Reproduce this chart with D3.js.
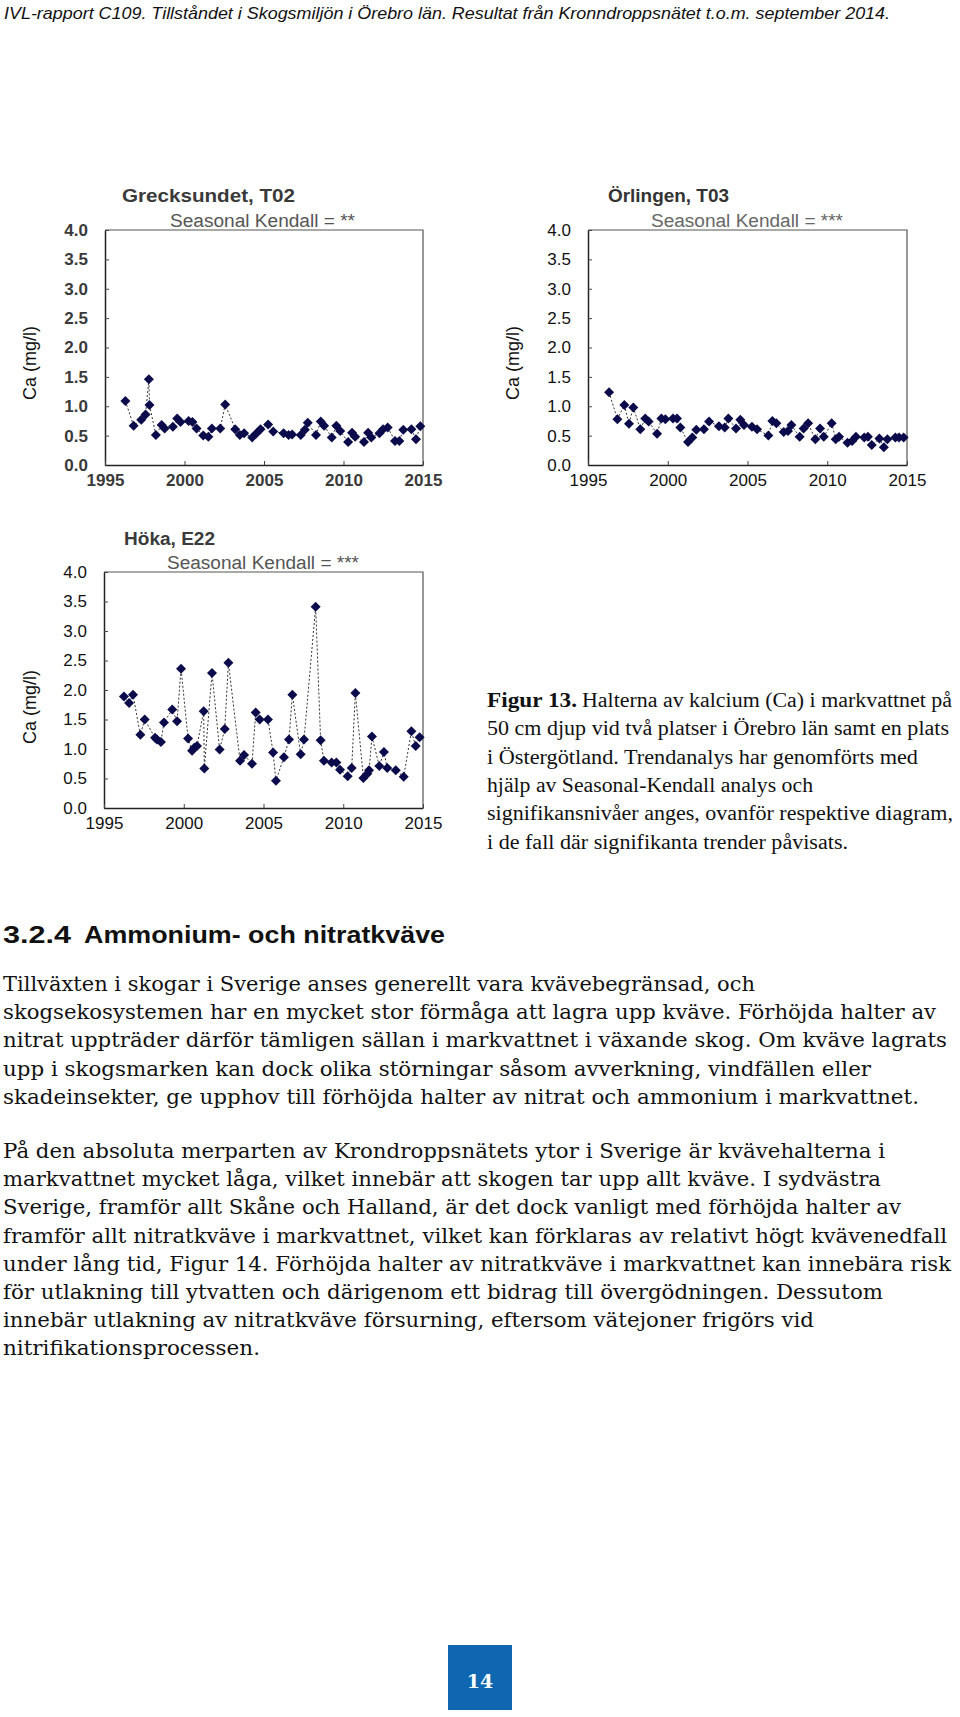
<!DOCTYPE html>
<html><head><meta charset="utf-8">
<script src="https://cdn.jsdelivr.net/npm/d3@7"></script>
<style>body{margin:0;background:#fff}svg{display:block}</style>
</head><body><svg id="page" width="960" height="1717"></svg>
<script>
// ---------- data ----------
const xTickYears = [1995, 2000, 2005, 2010, 2015];
const yTickValues = [0, 0.5, 1, 1.5, 2, 2.5, 3, 3.5, 4];

const dates_T02 = [1996.28,1996.8,1997.28,1997.55,1997.76,1997.8,1998.2,1998.56,1998.75,1999.27,1999.54,1999.75,2000.26,2000.5,2000.76,2001.18,2001.5,2001.72,2002.25,2002.56,2003.19,2003.48,2003.75,2004.26,2004.53,2004.78,2005.26,2005.58,2006.23,2006.55,2006.77,2007.31,2007.57,2007.75,2008.27,2008.57,2008.78,2009.26,2009.55,2009.79,2010.29,2010.54,2010.73,2011.29,2011.55,2011.75,2012.26,2012.49,2012.78,2013.24,2013.51,2013.76,2014.27,2014.56,2014.83];
const ca_T02 = [1.09,0.67,0.77,0.86,1.46,1.02,0.51,0.68,0.62,0.65,0.79,0.73,0.75,0.73,0.62,0.50,0.48,0.62,0.62,1.03,0.61,0.51,0.54,0.47,0.54,0.61,0.69,0.57,0.54,0.51,0.52,0.51,0.60,0.72,0.51,0.74,0.67,0.47,0.67,0.58,0.39,0.55,0.48,0.39,0.55,0.47,0.54,0.61,0.64,0.41,0.41,0.60,0.61,0.44,0.66];

const dates_T03 = [1996.32,1996.84,1997.28,1997.57,1997.84,1998.28,1998.59,1998.8,1999.33,1999.6,1999.85,2000.33,2000.58,2000.79,2001.27,2001.54,2001.79,2002.27,2002.59,2003.21,2003.57,2003.8,2004.28,2004.55,2004.78,2005.28,2005.6,2006.31,2006.56,2006.81,2007.27,2007.54,2007.75,2008.27,2008.52,2008.8,2009.25,2009.55,2009.78,2010.28,2010.53,2010.74,2011.27,2011.56,2011.8,2012.32,2012.55,2012.79,2013.27,2013.55,2013.77,2014.27,2014.5,2014.79];
const ca_T03 = [1.24,0.78,1.02,0.70,0.98,0.61,0.79,0.74,0.53,0.79,0.78,0.79,0.79,0.64,0.39,0.47,0.60,0.61,0.74,0.66,0.64,0.79,0.62,0.77,0.68,0.65,0.61,0.50,0.75,0.71,0.56,0.58,0.68,0.48,0.62,0.71,0.44,0.62,0.48,0.71,0.44,0.48,0.38,0.41,0.48,0.47,0.48,0.34,0.45,0.30,0.44,0.47,0.47,0.47];

const dates_E22 = [1996.25,1996.57,1996.82,1997.28,1997.55,1998.2,1998.32,1998.57,1998.76,1999.28,1999.58,1999.83,2000.27,2000.52,2000.66,2000.83,2001.25,2001.29,2001.77,2002.25,2002.57,2002.8,2003.53,2003.78,2004.28,2004.51,2004.76,2005.28,2005.6,2005.78,2006.28,2006.6,2006.81,2007.33,2007.54,2008.27,2008.58,2008.79,2009.27,2009.57,2009.8,2010.28,2010.53,2010.76,2011.26,2011.51,2011.62,2011.8,2012.26,2012.55,2012.76,2013.29,2013.79,2014.27,2014.54,2014.79];
const ca_E22 = [1.89,1.78,1.92,1.24,1.50,1.19,1.16,1.12,1.45,1.67,1.47,2.36,1.18,0.97,1.02,1.05,1.64,0.67,2.29,0.99,1.34,2.46,0.80,0.90,0.75,1.62,1.50,1.50,0.94,0.46,0.86,1.16,1.92,0.91,1.16,3.41,1.15,0.80,0.77,0.77,0.65,0.54,0.68,1.95,0.51,0.58,0.64,1.21,0.71,0.95,0.68,0.64,0.53,1.30,1.05,1.20];

const stationTitles = ["Grecksundet, T02", "Örlingen, T03", "Höka, E22"];
const kendallLabels = ["Seasonal Kendall = **", "Seasonal Kendall = ***", "Seasonal Kendall = ***"];
const yAxisLabel = "Ca (mg/l)";

const headerText = "IVL-rapport C109. Tillståndet i Skogsmiljön i Örebro län. Resultat från Kronndroppsnätet t.o.m. september 2014.";
const captionBold = "Figur 13.";
const captionLines = [
  "Halterna av kalcium (Ca) i markvattnet på",
  "50 cm djup vid två platser i Örebro län samt en plats",
  "i Östergötland. Trendanalys har genomförts med",
  "hjälp av Seasonal-Kendall analys och",
  "signifikansnivåer anges, ovanför respektive diagram,",
  "i de fall där signifikanta trender påvisats."
];
const headingNumber = "3.2.4";
const headingText = "Ammonium- och nitratkväve";
const para1 = [
  "Tillväxten i skogar i Sverige anses generellt vara kvävebegränsad, och",
  "skogsekosystemen har en mycket stor förmåga att lagra upp kväve. Förhöjda halter av",
  "nitrat uppträder därför tämligen sällan i markvattnet i växande skog. Om kväve lagrats",
  "upp i skogsmarken kan dock olika störningar såsom avverkning, vindfällen eller",
  "skadeinsekter, ge upphov till förhöjda halter av nitrat och ammonium i markvattnet."
];
const para2 = [
  "På den absoluta merparten av Krondroppsnätets ytor i Sverige är kvävehalterna i",
  "markvattnet mycket låga, vilket innebär att skogen tar upp allt kväve. I sydvästra",
  "Sverige, framför allt Skåne och Halland, är det dock vanligt med förhöjda halter av",
  "framför allt nitratkväve i markvattnet, vilket kan förklaras av relativt högt kvävenedfall",
  "under lång tid, Figur 14. Förhöjda halter av nitratkväve i markvattnet kan innebära risk",
  "för utlakning till ytvatten och därigenom ett bidrag till övergödningen. Dessutom",
  "innebär utlakning av nitratkväve försurning, eftersom vätejoner frigörs vid",
  "nitrifikationsprocessen."
];
const pageNumber = "14";

// ---------- layout ----------
const svg = d3.select("#page");
const SANS = "'Liberation Sans', Arial, sans-serif";
const SERIF = "'DejaVu Serif', Georgia, serif";
const CAPSERIF = "'Liberation Serif', 'Times New Roman', serif";

svg.append("text").attr("x", 4).attr("y", 19)
  .attr("font-family", "'Liberation Sans Narrow', 'Liberation Sans', Arial, sans-serif")
  .attr("font-style", "italic").attr("font-size", 17).attr("fill", "#111")
  .attr("textLength", 886).attr("lengthAdjust", "spacingAndGlyphs")
  .text(headerText);

const charts = [
  {dates: dates_T02, vals: ca_T02, left:105, right:423, top:230, bottom:465,
   title:{x:122,y:202,len:173}, sk:{x:170,y:227,len:185}, yl:{x:30,y:363},
   tickFill:"#3a3a3a", tickWeight:"bold", titleFill:"#3a3a3a", skFill:"#555"},
  {dates: dates_T03, vals: ca_T03, left:588, right:907, top:230, bottom:465,
   title:{x:608,y:202,len:121}, sk:{x:651,y:227,len:192}, yl:{x:513,y:363},
   tickFill:"#111", tickWeight:"normal", titleFill:"#333", skFill:"#666"},
  {dates: dates_E22, vals: ca_E22, left:104, right:423, top:572, bottom:808,
   title:{x:124,y:545,len:91}, sk:{x:167,y:569,len:192}, yl:{x:30,y:707},
   tickFill:"#111", tickWeight:"normal", titleFill:"#3a3a3a", skFill:"#555"}
];

charts.forEach((c, i) => {
  const g = svg.append("g");
  const x = d3.scaleLinear().domain([1995, 2015]).range([c.left, c.right]);
  const y = d3.scaleLinear().domain([0, 4]).range([c.bottom, c.top]);

  g.append("path")
    .attr("d", `M${c.left},${c.top}H${c.right}V${c.bottom}`)
    .attr("fill", "none").attr("stroke", "#555").attr("stroke-width", 1.2);

  const ya = g.append("g").attr("transform", `translate(${c.left},0)`)
    .call(d3.axisLeft(y).tickValues(yTickValues).tickFormat(d3.format(".1f"))
      .tickSizeInner(-4).tickSizeOuter(0).tickPadding(17));
  const xa = g.append("g").attr("transform", `translate(0,${c.bottom})`)
    .call(d3.axisBottom(x).tickValues(xTickYears).tickFormat(d3.format("d"))
      .tickSizeInner(-4).tickSizeOuter(0).tickPadding(9));
  [ya, xa].forEach(a => {
    a.select(".domain").attr("stroke", "#222").attr("stroke-width", 1.5);
    a.selectAll(".tick line").attr("stroke", "#444");
    a.selectAll("text").attr("font-family", SANS).attr("font-size", 17)
      .attr("fill", c.tickFill).attr("font-weight", c.tickWeight);
  });

  g.append("text")
    .attr("transform", `translate(${c.yl.x + 6},${c.yl.y}) rotate(-90)`)
    .attr("text-anchor", "middle").attr("font-family", SANS).attr("font-size", 18)
    .attr("fill", "#111").text(yAxisLabel);

  g.append("text").attr("x", c.title.x).attr("y", c.title.y)
    .attr("font-family", SANS).attr("font-weight", "bold").attr("font-size", 18)
    .attr("fill", c.titleFill).attr("textLength", c.title.len).attr("lengthAdjust", "spacingAndGlyphs")
    .text(stationTitles[i]);
  g.append("text").attr("x", c.sk.x).attr("y", c.sk.y)
    .attr("font-family", SANS).attr("font-size", 18)
    .attr("fill", c.skFill).attr("textLength", c.sk.len).attr("lengthAdjust", "spacingAndGlyphs")
    .text(kendallLabels[i]);

  const pts = d3.zip(c.dates, c.vals);
  g.append("path").datum(pts)
    .attr("d", d3.line().x(d => x(d[0])).y(d => y(d[1])))
    .attr("fill", "none").attr("stroke", "#333").attr("stroke-width", 1)
    .attr("stroke-dasharray", "2,2");
  g.selectAll(".pt").data(pts).join("path").attr("class", "pt")
    .attr("d", d3.symbol(d3.symbolSquare, 50)())
    .attr("transform", d => `translate(${x(d[0])},${y(d[1])}) rotate(45)`)
    .attr("fill", "#0b0b4b");
});

// caption
svg.append("text").attr("x", 487).attr("y", 707)
  .attr("font-family", CAPSERIF).attr("font-weight", "bold").attr("font-size", 20).attr("fill", "#111")
  .attr("textLength", 90).attr("lengthAdjust", "spacingAndGlyphs").text(captionBold);
const capEnds = [952, 949, 918, 813, 953, 848];
captionLines.forEach((t, k) => {
  const x0 = k === 0 ? 582 : 487;
  svg.append("text").attr("x", x0).attr("y", 707 + k * 28.3)
    .attr("font-family", CAPSERIF).attr("font-size", 20).attr("fill", "#111")
    .attr("textLength", capEnds[k] - x0).attr("lengthAdjust", "spacingAndGlyphs").text(t);
});

// heading
svg.append("text").attr("x", 3).attr("y", 943)
  .attr("font-family", SANS).attr("font-weight", "bold").attr("font-size", 24).attr("fill", "#111")
  .attr("textLength", 68).attr("lengthAdjust", "spacingAndGlyphs").text(headingNumber);
svg.append("text").attr("x", 84).attr("y", 943)
  .attr("font-family", SANS).attr("font-weight", "bold").attr("font-size", 24).attr("fill", "#111")
  .attr("textLength", 361).attr("lengthAdjust", "spacingAndGlyphs").text(headingText);

// body
const p1Ends = [755, 936, 947, 871, 919];
para1.forEach((t, k) => {
  svg.append("text").attr("x", 3).attr("y", 991 + k * 28.2)
    .attr("font-family", SERIF).attr("font-size", 19.5).attr("fill", "#111")
    .attr("textLength", p1Ends[k] - 3).attr("lengthAdjust", "spacingAndGlyphs").text(t);
});
const p2Ends = [885, 881, 901, 947, 951, 883, 814, 260];
para2.forEach((t, k) => {
  svg.append("text").attr("x", 3).attr("y", 1158 + k * 28.2)
    .attr("font-family", SERIF).attr("font-size", 19.5).attr("fill", "#111")
    .attr("textLength", p2Ends[k] - 3).attr("lengthAdjust", "spacingAndGlyphs").text(t);
});

// page number
svg.append("rect").attr("x", 448).attr("y", 1645).attr("width", 64).attr("height", 65).attr("fill", "#1067b1");
svg.append("text").attr("x", 480).attr("y", 1688).attr("text-anchor", "middle")
  .attr("font-family", SERIF).attr("font-weight", "bold").attr("font-size", 19).attr("fill", "#fff")
  .text(pageNumber);
</script></body></html>
